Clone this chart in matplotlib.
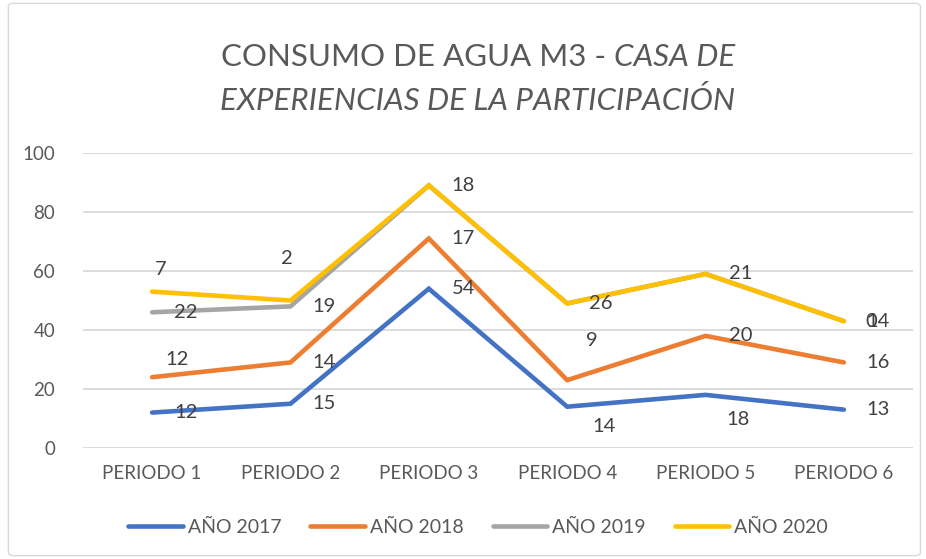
import matplotlib
matplotlib.use("Agg")
import matplotlib.pyplot as plt
from matplotlib.patches import FancyBboxPatch
import numpy as np

categories = ["PERIODO 1", "PERIODO 2", "PERIODO 3", "PERIODO 4", "PERIODO 5", "PERIODO 6"]
series_names = ["AÑO 2017", "AÑO 2018", "AÑO 2019", "AÑO 2020"]
anio_2017 = [12, 15, 54, 14, 18, 13]
anio_2018 = [12, 14, 17, 9, 20, 16]
anio_2019 = [22, 19, 18, 26, 21, 14]
anio_2020 = [7, 2, None, None, None, 0]
colors = ["#4472C4", "#ED7D31", "#A5A5A5", "#FFC000"]

# label offsets in pixels (dx, dy) per series / point
offsets = [
    [(22, 0), (22, 0), (23, 0), (25, -20), (21, -25), (22, 0)],
    [(13, 18), (22, 0), (23, 0), (19, 40), (23, 0), (22, 0)],
    [(22, 0), (22, 0), (23, 0), (22, 0), (23, 0), (22, 0)],
    [(3, 22), (-9, 42), (23, 0), (22, 0), (23, 0), (22, 0)],
]

FONT = "Lato"
TXT = "#595959"

fig = plt.figure(figsize=(9.26, 5.59), dpi=100)
fig.patch.set_facecolor("white")
border = FancyBboxPatch((0.009, 0.006), 0.985, 0.988, boxstyle="round,pad=0,rounding_size=0.006",
                        transform=fig.transFigure, fill=False, edgecolor="#D9D9D9", linewidth=1.0)
fig.patches.append(border)

ax = fig.add_axes([0.0896, 0.1986, 0.8964, 0.5277])
x = np.arange(len(categories))
data = [anio_2017, anio_2018, anio_2019, anio_2020]
cum = np.zeros(len(categories))
lines = []
for i, s in enumerate(data):
    vals = np.array([0 if v is None else v for v in s], dtype=float)
    cum = cum + vals
    ln, = ax.plot(x, cum, color=colors[i], lw=3.3, solid_capstyle="round",
                  solid_joinstyle="miter", zorder=3 + i, label=series_names[i])
    lines.append(ln)
    for j, v in enumerate(s):
        if v is None:
            continue
        dx, dy = offsets[i][j]
        ax.annotate(str(v), (x[j], cum[j]), xytext=(dx, dy), textcoords="offset pixels",
                    ha="left", va="center", fontsize=14.5, color="#404040", family=FONT, zorder=10)

ax.set_xlim(-0.5, len(categories) - 0.5)
ax.set_ylim(0, 100)
ax.set_yticks(np.arange(0, 101, 20))
ax.set_xticks(x)
ax.set_xticklabels(categories, fontsize=13.5, color=TXT, family=FONT)
for lab in ax.get_yticklabels():
    lab.set_fontsize(13.5)
    lab.set_color(TXT)
    lab.set_family(FONT)
ax.tick_params(axis="both", length=0)
ax.tick_params(axis="y", pad=20)
ax.tick_params(axis="x", pad=12)
ax.grid(axis="y", color="#D9D9D9", lw=1.3)
ax.set_axisbelow(True)
for sp in ax.spines.values():
    sp.set_visible(False)

# Title with mixed styles
fig.canvas.draw()
r = fig.canvas.get_renderer()
cx = 478 / 926
tsize = 22.5
t1a = fig.text(0, 1 - 57 / 559, "CONSUMO DE AGUA M3 - ", fontsize=tsize, color=TXT, family=FONT, va="center")
t1b = fig.text(0, 1 - 57 / 559, "CASA DE", fontsize=tsize, color=TXT, family=FONT, va="center", style="italic")
w1 = t1a.get_window_extent(r).width
w2 = t1b.get_window_extent(r).width
start = cx * 926 - (w1 + w2) / 2
t1a.set_x(start / 926)
t1b.set_x((start + w1) / 926)
fig.text(cx, 1 - 100 / 559, "EXPERIENCIAS DE LA PARTICIPACIÓN", fontsize=tsize, color=TXT,
         family=FONT, va="center", ha="center", style="italic")

fig.legend(handles=lines, labels=series_names, loc="center", bbox_to_anchor=(478 / 926, 1 - 527 / 559),
           ncol=4, frameon=False, fontsize=14, handlelength=2.8, handletextpad=0.25,
           columnspacing=1.5, prop={"family": FONT, "size": 14}, labelcolor=TXT)

fig.savefig("out.png", dpi=100, facecolor="white")
